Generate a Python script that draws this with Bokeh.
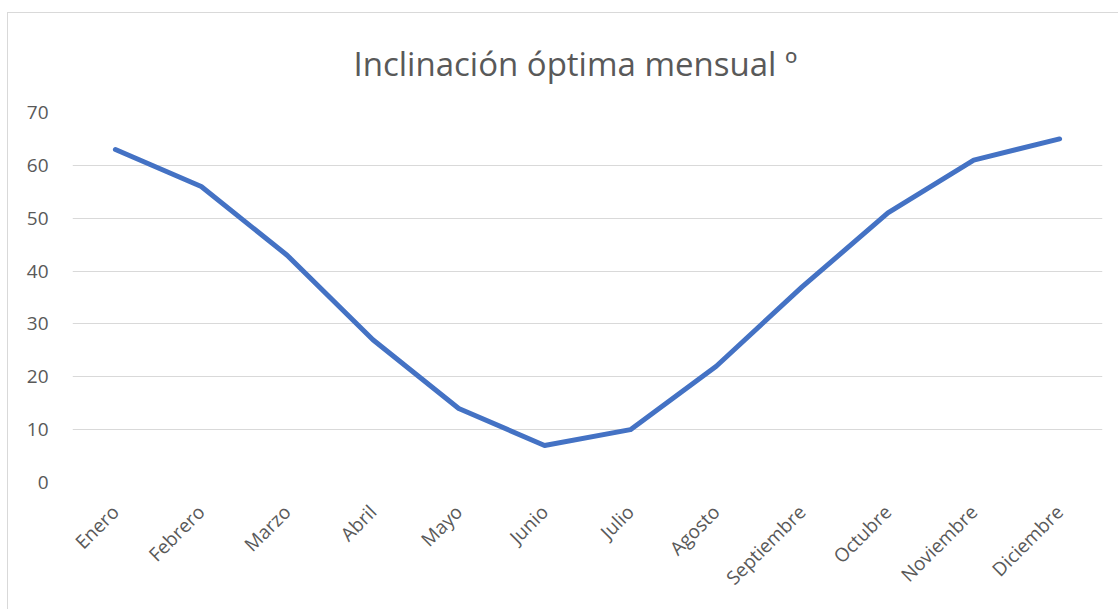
from bokeh.plotting import figure
from bokeh.embed import file_html
from bokeh.resources import INLINE
from bokeh.models import FixedTicker
from math import pi

months = ["Enero", "Febrero", "Marzo", "Abril", "Mayo", "Junio", "Julio",
          "Agosto", "Septiembre", "Octubre", "Noviembre", "Diciembre"]
inclinacion = [63, 56, 43, 27, 14, 7, 10, 22, 37, 51, 61, 65]
y_ticks = [0, 10, 20, 30, 40, 50, 60, 70]
title_text = "Inclinación óptima mensual º"

p = figure(width=1111, height=597, x_range=months, y_range=(0, 70),
           output_backend="svg", toolbar_location=None,
           min_border_left=64, min_border_right=17, min_border_top=99,
           min_border_bottom=128)
p.margin = (12, 0, 0, 7)
p.styles = {"border-left": "1px solid #d9d9d9", "border-top": "1px solid #d9d9d9"}

p.title.text = title_text
p.title.text_font = "Open Sans"
p.title.text_font_size = "33px"
p.title.text_font_style = "normal"
p.title.text_color = "#595959"
p.title.align = "left"
p.title.offset = 281
p.title.vertical_align = "top"
p.title.standoff = 50

p.line(months, inclinacion, line_color="#4472C4", line_width=5,
       line_cap="round", line_join="round")

p.x_range.range_padding = 0
p.outline_line_color = None
p.xgrid.grid_line_color = None
p.ygrid.grid_line_color = "#d9d9d9"
p.ygrid.grid_line_width = 1
p.yaxis.ticker = FixedTicker(ticks=y_ticks)

for ax in (p.xaxis, p.yaxis):
    ax.axis_line_color = None
    ax.major_tick_line_color = None
    ax.minor_tick_line_color = None
    ax.major_label_text_font = "Open Sans"
    ax.major_label_text_font_size = "19px"
    ax.major_label_text_color = "#595959"

p.yaxis.major_label_standoff = 18
p.xaxis.major_label_orientation = pi / 4
p.xaxis.major_label_standoff = 20

open("out.html", "w").write(file_html(p, INLINE))
